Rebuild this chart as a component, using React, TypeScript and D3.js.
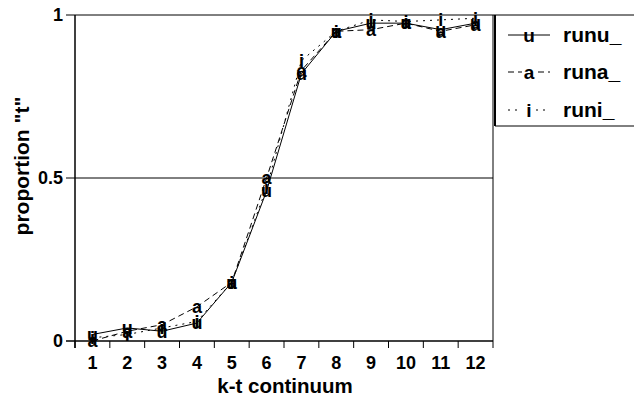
import React from "react";
import * as d3 from "d3";

const categories = ["1", "2", "3", "4", "5", "6", "7", "8", "9", "10", "11", "12"];
const runuValues = [0.02, 0.04, 0.03, 0.055, 0.18, 0.46, 0.82, 0.95, 0.975, 0.975, 0.955, 0.975];
const runaValues = [0.0, 0.03, 0.05, 0.105, 0.18, 0.5, 0.83, 0.95, 0.955, 0.975, 0.95, 0.97];
const runiValues = [0.01, 0.02, 0.04, 0.06, 0.18, 0.47, 0.86, 0.95, 0.985, 0.98, 0.985, 0.99];
const yTicks = [0, 0.5, 1];
const yTickLabels = ["0", "0.5", "1"];

const series = [
  { name: "runu_", marker: "u", values: runuValues, dash: "none" },
  { name: "runa_", marker: "a", values: runaValues, dash: "6,4" },
  { name: "runi_", marker: "i", values: runiValues, dash: "2,5" },
];

const W = 634;
const H = 405;
const FONT = "'Liberation Sans', Arial, sans-serif";

export default function App() {
  const x = d3.scaleBand<string>().domain(categories).range([75, 493]).padding(0);
  const y = d3.scaleLinear().domain([0, 1]).range([341, 15]);
  const cx = (c: string) => (x(c) as number) + x.bandwidth() / 2;
  const line = (vals: number[]) =>
    d3
      .line<number>()
      .x((_, i) => cx(categories[i]))
      .y((v) => y(v))(vals) as string;

  const legendY = [35, 72, 110];

  return (
    <svg
      width={W}
      height={H}
      style={{ position: "absolute", left: 0, top: 0, background: "#fff" }}
      fontFamily={FONT}
    >
      <rect x={0} y={0} width={W} height={H} fill="#fff" />
      <line x1={66} x2={W} y1={y(1)} y2={y(1)} stroke="#000" strokeWidth={1} />
      <line x1={66} x2={493} y1={y(0.5)} y2={y(0.5)} stroke="#000" strokeWidth={1} />
      <line x1={66} x2={493} y1={y(0)} y2={y(0)} stroke="#000" strokeWidth={1.5} />
      <line x1={75} x2={75} y1={15} y2={348} stroke="#000" strokeWidth={1.5} />
      <line x1={493} x2={493} y1={15} y2={348} stroke="#000" strokeWidth={1} />
      {categories.map((c) => (
        <line key={"t" + c} x1={x(c) as number} x2={x(c) as number} y1={341} y2={348} stroke="#000" />
      ))}
      {yTicks.map((t, i) => (
        <text key={"y" + t} x={63} y={y(t)} dy="0.35em" textAnchor="end" fontSize={18} fontWeight="bold">
          {yTickLabels[i]}
        </text>
      ))}
      {categories.map((c) => (
        <text key={"x" + c} x={cx(c)} y={369} textAnchor="middle" fontSize={18} fontWeight="bold">
          {c}
        </text>
      ))}
      <text x={285} y={393} textAnchor="middle" fontSize={20.5} fontWeight="bold">
        k-t continuum
      </text>
      <text
        transform={`translate(29,${166}) rotate(-90)`}
        textAnchor="middle"
        fontSize={21}
        fontWeight="bold"
      >
        proportion "t"
      </text>
      {series.map((s) => (
        <g key={s.name}>
          <path d={line(s.values)} fill="none" stroke="#000" strokeWidth={1} strokeDasharray={s.dash} />
          {s.values.map((v, i) => (
            <text
              key={i}
              x={cx(categories[i])}
              y={y(v)}
              dy="0.35em"
              textAnchor="middle"
              fontSize={18}
              fontWeight="bold"
            >
              {s.marker}
            </text>
          ))}
        </g>
      ))}
      <line x1={495} x2={495} y1={15} y2={126} stroke="#000" strokeWidth={2} />
      <line x1={495} x2={W} y1={126} y2={126} stroke="#000" strokeWidth={1} />
      {series.map((s, i) => (
        <g key={"l" + s.name}>
          <line x1={508} x2={550} y1={legendY[i]} y2={legendY[i]} stroke="#000" strokeDasharray={s.dash} />
          <rect x={522} y={legendY[i] - 7} width={13} height={15} fill="#fff" opacity={s.marker === "u" ? 0 : 1} />
          <text x={529} y={legendY[i]} dy="0.35em" textAnchor="middle" fontSize={19} fontWeight="bold">
            {s.marker}
          </text>
          <text x={563} y={legendY[i]} dy="0.35em" fontSize={21} fontWeight="bold">
            {s.name}
          </text>
        </g>
      ))}
    </svg>
  );
}
